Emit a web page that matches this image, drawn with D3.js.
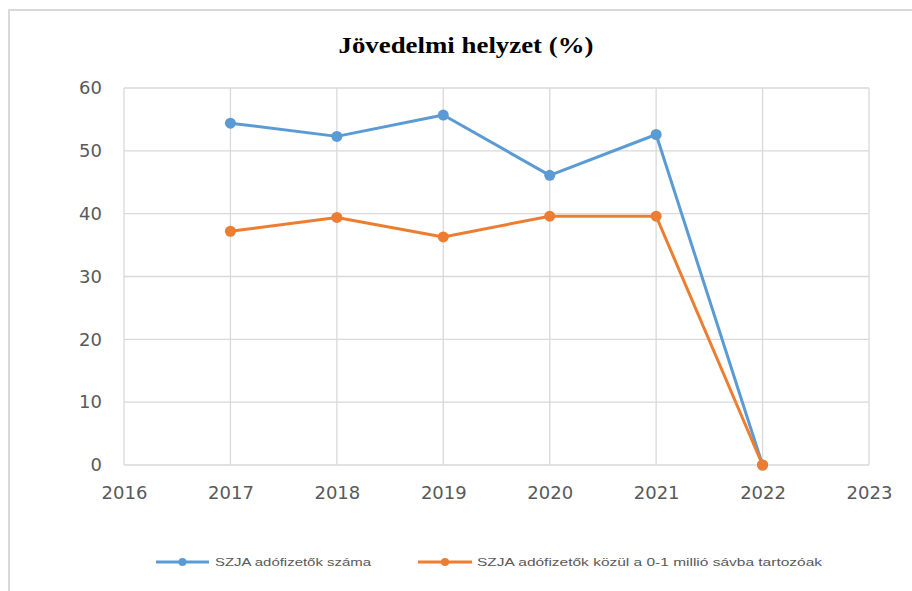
<!DOCTYPE html>
<html>
<head>
<meta charset="utf-8">
<script src="https://cdn.jsdelivr.net/npm/d3@7"></script>
<style>
  html, body { margin: 0; padding: 0; background: #fff; }
  svg { display: block; }
</style>
</head>
<body>
<svg id="chart" width="912" height="591"></svg>
<script>
const years = [2017, 2018, 2019, 2020, 2021, 2022];
const seriesNames = ["SZJA adófizetők száma", "SZJA adófizetők közül a 0-1 millió sávba tartozóak"];
const seriesA = [54.4, 52.3, 55.7, 46.1, 52.6, 0];
const seriesB = [37.2, 39.4, 36.3, 39.6, 39.6, 0];
const xTicks = [2016, 2017, 2018, 2019, 2020, 2021, 2022, 2023];
const yTicks = [0, 10, 20, 30, 40, 50, 60];
const colors = ["#5B9BD5", "#ED7D31"];
const title = "Jövedelmi helyzet (%)";

(function () {
const svg = d3.select("#chart");
const pl = 124, pr = 869, pt = 88, pb = 465;

// outer chart border
svg.append("rect").attr("x", 9).attr("y", 10).attr("width", 960).attr("height", 640)
  .attr("fill", "none").attr("stroke", "#d9d9d9").attr("stroke-width", 2);

const x = d3.scaleLinear().domain([2016, 2023]).range([pl, pr]);
const y = d3.scaleLinear().domain([0, 60]).range([pb, pt]);

// gridlines
const grid = svg.append("g");
grid.selectAll("line.h").data(yTicks).join("line").attr("class", "h")
  .attr("x1", pl).attr("x2", pr)
  .attr("y1", d => y(d)).attr("y2", d => y(d))
  .attr("stroke", "#d9d9d9").attr("stroke-width", 1.3);
grid.selectAll("line.v").data(xTicks).join("line").attr("class", "v")
  .attr("y1", pt).attr("y2", pb)
  .attr("x1", d => x(d)).attr("x2", d => x(d))
  .attr("stroke", "#d9d9d9").attr("stroke-width", 1.3);

// axes
const yAxis = svg.append("g").attr("transform", `translate(${pl},0)`)
  .call(d3.axisLeft(y).tickValues(yTicks).tickSize(0).tickPadding(22));
const xAxis = svg.append("g").attr("transform", `translate(0,${pb})`)
  .call(d3.axisBottom(x).tickValues(xTicks).tickFormat(d3.format("d")).tickSize(0).tickPadding(22));
[yAxis, xAxis].forEach(a => {
  a.select(".domain").remove();
  a.selectAll("text").attr("font-family", "DejaVu Sans").attr("font-size", 18).attr("fill", "#595959");
});
xAxis.selectAll("text").attr("dy", "0.68em");

// title
svg.append("text").attr("x", 466).attr("y", 53).attr("text-anchor", "middle")
  .attr("font-family", "Liberation Serif").attr("font-weight", "bold").attr("font-size", 23)
  .attr("fill", "#000").attr("textLength", 255).attr("lengthAdjust", "spacingAndGlyphs")
  .text(title);

// lines
const line = d3.line().x((d, i) => x(years[i])).y(d => y(d));
[seriesA, seriesB].forEach((s, k) => {
  const g = svg.append("g");
  g.append("path").datum(s).attr("d", line).attr("fill", "none")
    .attr("stroke", colors[k]).attr("stroke-width", 3).attr("stroke-linejoin", "round");
  g.selectAll("circle").data(s).join("circle")
    .attr("cx", (d, i) => x(years[i])).attr("cy", d => y(d)).attr("r", 5.5)
    .attr("fill", colors[k]);
});

// legend
const legendItems = [
  { x1: 156, x2: 209, tx: 215, tw: 156 },
  { x1: 418, x2: 472, tx: 477, tw: 345 }
];
const ly = 562;
legendItems.forEach((it, k) => {
  const g = svg.append("g");
  g.append("line").attr("x1", it.x1).attr("x2", it.x2).attr("y1", ly).attr("y2", ly)
    .attr("stroke", colors[k]).attr("stroke-width", 3);
  g.append("circle").attr("cx", (it.x1 + it.x2) / 2).attr("cy", ly).attr("r", 4).attr("fill", colors[k]);
  g.append("text").attr("x", it.tx).attr("y", ly + 4)
    .attr("font-family", "Liberation Sans").attr("font-size", 11).attr("fill", "#595959")
    .attr("textLength", it.tw).attr("lengthAdjust", "spacingAndGlyphs")
    .text(seriesNames[k]);
});
})();
</script>
</body>
</html>
